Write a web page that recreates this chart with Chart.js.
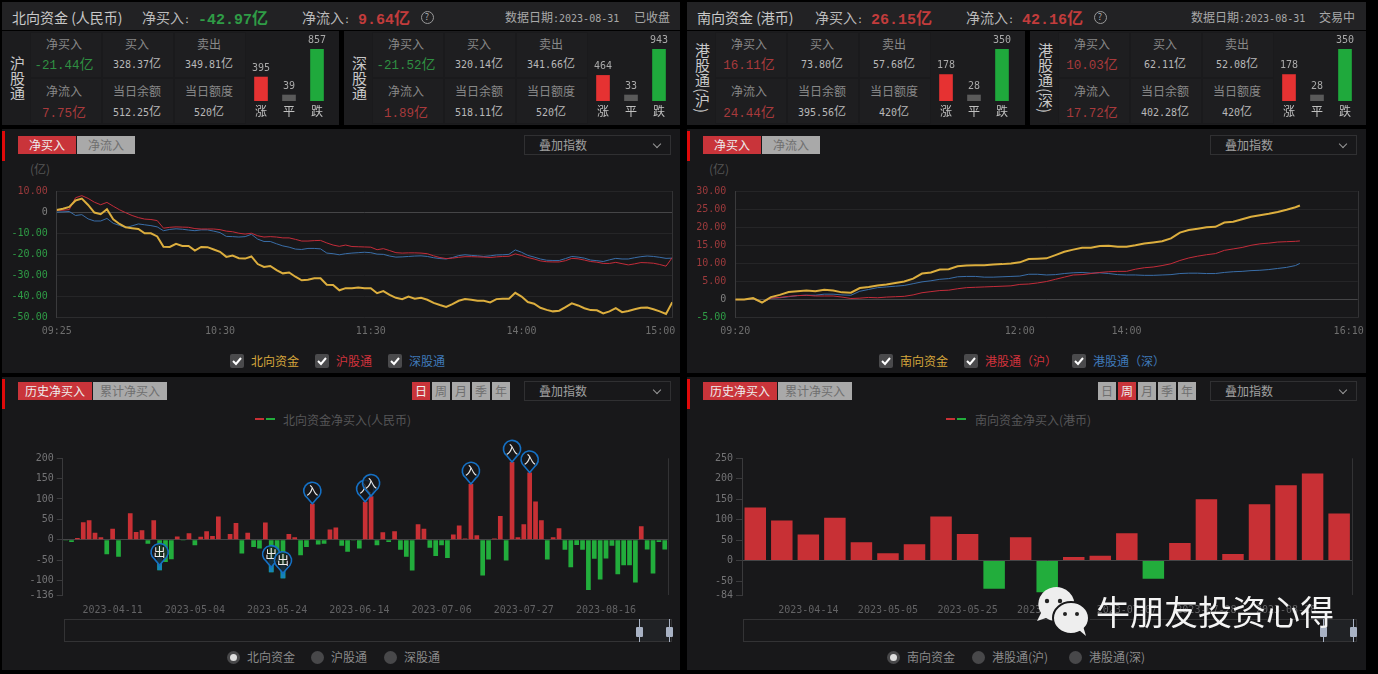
<!DOCTYPE html>
<html>
<head>
<meta charset="utf-8">
<script src="https://cdn.jsdelivr.net/npm/chart.js@4/dist/chart.umd.min.js"></script>
<style>
html, body { margin: 0; padding: 0; background: #000; }
#page { position: relative; width: 1378px; height: 674px; overflow: hidden; background: #000;
  font-family: "Noto Sans CJK SC", sans-serif; font-size: 12px; color: #999; }
#page div, #page canvas, #page svg { position: absolute; }
.t { white-space: nowrap; height: 20px; line-height: 20px; }
.mono { font-family: "DejaVu Sans Mono", monospace; font-size: 10px; }
.cv { font-size: 14px; }
.cv .mono { font-family: "Liberation Mono", monospace; font-size: 12.5px; }
.bigv { font-weight: bold; font-size: 16px; }
.bigv .mono { font-family: "Liberation Mono", monospace; font-size: 15px; font-weight: bold; }
.panel { background: #18181a; }
.cell { background: #1e1e20; border: 1px solid #1a1a1c; box-sizing: border-box; }
.btn { text-align: center; height: 18px; line-height: 18px; box-sizing: border-box; }
.on { background: #c9343a; color: #eee; }
.off { background: #a9a9a9; color: #6f6f6f; }
</style>
</head>
<body>
<div id="page"></div>
<script>
// summary cards
const connectNames = ['沪股通', '深股通', '港股通(沪)', '港股通(深)'];
const netBuy = [-21.44, -21.52, 16.11, 10.03];
const netFlow = [7.75, 1.89, 24.44, 17.72];
const buyAmount = ['328.37', '320.14', '73.80', '62.11'];
const sellAmount = ['349.81', '341.66', '57.68', '52.08'];
const balance = ['512.25', '518.11', '395.56', '402.28'];
const quota = ['520', '520', '420', '420'];
const upCount = [395, 464, 178, 178];
const flatCount = [39, 33, 28, 28];
const downCount = [857, 943, 350, 350];
const breadthLabels = ['涨', '平', '跌'];

// intraday north (minutes of trading since 09:25)
const northMinutes = Array.from({ length: 99 }, (_, i) => i * 2.5);
const northTicks = { 0: '09:25', 65: '10:30', 125: '11:30', 185: '14:00', 245: '15:00    ' };
const northYTicks = [10, 0, -10, -20, -30, -40, -50];
const northTotal = [1, 1.6, 2.5, 5.5, 6.4, 3.4, -0.2, -1, 1.4, -3.4, -5.6, -7.2, -7.6, -8, -10, -10, -11.5, -16.4, -16.5, -15, -16, -16, -18.2, -16.5, -16.6, -17.7, -18.8, -21.2, -20.6, -21.8, -22, -21, -24.6, -26, -25.5, -27.5, -29, -28.6, -30.6, -32.3, -32, -31.3, -31.3, -34.4, -34.5, -37, -36, -36, -35.7, -36, -36, -38.4, -37.4, -39.2, -40.6, -41.2, -40, -41, -40.6, -41.5, -43, -44, -44.9, -43.6, -42, -41.2, -41.5, -42, -42, -42.8, -41.2, -41, -41, -38.2, -40, -42.6, -43.4, -45.3, -46.3, -47, -46.7, -45, -43.2, -44.2, -45.5, -46.4, -46.5, -48, -47, -45.5, -47.4, -46.8, -46, -45.3, -45.2, -46, -47, -48.2, -42.7];
const northSh = [0.8, 0.9, 1.2, 6.8, 7.8, 6.5, 4.7, 3.5, 4.6, 2.8, 1.1, -0.3, -1.6, -2.6, -3.3, -3.5, -4, -7.6, -7.2, -7, -7.1, -7.2, -7.8, -8, -8, -8, -8.3, -9, -9.3, -10, -10.4, -10, -11.2, -11.8, -11.6, -11.8, -12.2, -12.2, -12.9, -13.7, -13.7, -13.5, -13.4, -14.6, -15.6, -16.2, -15.6, -16.3, -16.4, -16.5, -16.6, -17.8, -17.3, -18.2, -19.2, -19.4, -19.3, -19.3, -19.4, -19.7, -20.7, -21.5, -22, -21.8, -21.4, -21.1, -21.1, -21.2, -21.3, -21.5, -21.2, -21, -20.9, -19.8, -20.5, -21.5, -22.2, -23.1, -23.5, -23.6, -23.6, -23, -21.9, -22.1, -22.7, -23.4, -23.7, -24.3, -24.3, -23.8, -24.4, -25, -24.5, -23.9, -24, -24.2, -24.8, -25.6, -21.5];
const northSz = [0, 0.1, 0.3, -1.6, -1.2, -3.2, -4.2, -4.2, -3, -5.3, -6.3, -7.4, -6.5, -5.6, -6, -6.4, -7, -8.8, -8.2, -7.9, -8.1, -8.5, -8.8, -8.4, -8.4, -9, -9.7, -11.5, -11.6, -11.8, -11.6, -10.5, -12.8, -13.9, -13.9, -15, -16, -16.6, -17.5, -17.7, -17.2, -17.2, -17.4, -19.4, -19.7, -20.2, -19.7, -19.4, -19.2, -19, -19.2, -19.9, -20, -20.8, -21.3, -21.2, -21, -20.8, -20.7, -21, -21.6, -22, -22.2, -21.5, -20.6, -20.2, -20.5, -20.7, -21, -20.7, -20.3, -20.2, -20, -17.9, -19, -20.5, -21.3, -22.2, -22.8, -22.9, -22.9, -22, -21, -21.3, -21.8, -22.7, -23, -23.4, -22.6, -21.9, -22.2, -22.2, -21.6, -21.1, -20.8, -21, -21.4, -21.9, -21.8];

// intraday south (minutes of trading since 09:20)
const southMinutes = [0, 5, 10, 15, 20, 25, 30, 35, 40, 45, 50, 55, 60, 65, 70, 75, 80, 85, 90, 95, 100, 105, 110, 115, 120, 125, 130, 135, 140, 145, 150, 155, 160, 165, 170, 175, 180, 185, 190, 195, 200, 205, 210, 215, 220, 225, 230, 235, 240, 245, 250, 255, 260, 265, 270, 275, 280, 285, 290, 295, 300, 305, 310, 315, 317.5];
const southTicks = { 0: '09:20', 160: '12:00', 220: '14:00', 350: '16:10   ' };
const southYTicks = [30, 25, 20, 15, 10, 5, 0, -5];
const southTotal = [0, 0, 0.4, -0.8, 0.7, 1.3, 2.1, 2.3, 2.5, 2.3, 2.7, 2.5, 2, 1.9, 3.2, 3.5, 3.9, 4.2, 4.6, 5, 5.8, 7.2, 7.5, 8.3, 8.4, 9.2, 9.4, 9.5, 9.5, 9.7, 9.8, 10, 10.3, 11.2, 11.3, 11.4, 12.3, 13.2, 13.8, 14.3, 14.3, 14.8, 14.9, 14.6, 14.6, 15, 15.5, 15.8, 16.1, 16.9, 18.5, 19.2, 19.6, 20, 20.1, 21.3, 21.5, 22.2, 22.9, 23.3, 23.7, 24.2, 24.8, 25.5, 26];
const southSh = [0, 0, 0.3, -0.8, 0.4, 0.6, 0.9, 1.1, 1.2, 1, 1, 1, 0.7, 0.3, 0.4, 0.6, 0.5, 0.7, 0.8, 0.9, 1.3, 1.9, 2.2, 2.5, 2.6, 3, 3.3, 3.4, 3.5, 3.6, 3.7, 3.8, 4.2, 4.3, 4.6, 5, 5.6, 6.2, 6.8, 6.9, 7.2, 7.5, 7.7, 7.8, 7.8, 8.4, 8.8, 9, 9.4, 9.9, 10.8, 11.5, 12, 12.4, 12.7, 13.6, 14, 14.4, 15, 15.4, 15.6, 15.9, 16, 16.1, 16.2];
const southSz = [0, 0, 0.2, -0.8, 0.4, 0.5, 0.8, 1.1, 1.2, 1.2, 1.5, 1.5, 1.3, 1.2, 2.3, 2.8, 3.3, 3.5, 3.7, 3.9, 4.4, 4.9, 5.2, 5.6, 5.8, 6.3, 6.4, 6.4, 6.2, 6.2, 6.3, 6.4, 6.5, 7, 7, 6.8, 6.9, 7.2, 7.4, 7.5, 7.3, 7.4, 7.2, 6.9, 6.8, 6.8, 6.7, 6.7, 6.8, 6.9, 7.2, 7.3, 7.3, 7.2, 7.2, 7.5, 7.7, 7.8, 8, 8.1, 8.3, 8.6, 8.9, 9.4, 10];

// history north (daily)
const northDates = ['2023-03-27', '2023-03-28', '2023-03-29', '2023-03-30', '2023-03-31', '2023-04-03', '2023-04-04', '2023-04-06', '2023-04-11', '2023-04-12', '2023-04-13', '2023-04-14', '2023-04-17', '2023-04-18', '2023-04-19', '2023-04-20', '2023-04-21', '2023-04-24', '2023-04-25', '2023-04-26', '2023-04-27', '2023-04-28', '2023-05-04', '2023-05-05', '2023-05-08', '2023-05-09', '2023-05-10', '2023-05-11', '2023-05-12', '2023-05-15', '2023-05-16', '2023-05-17', '2023-05-18', '2023-05-19', '2023-05-22', '2023-05-23', '2023-05-24', '2023-05-25', '2023-05-29', '2023-05-30', '2023-05-31', '2023-06-01', '2023-06-02', '2023-06-05', '2023-06-06', '2023-06-07', '2023-06-08', '2023-06-09', '2023-06-12', '2023-06-13', '2023-06-14', '2023-06-15', '2023-06-16', '2023-06-19', '2023-06-20', '2023-06-21', '2023-06-26', '2023-06-27', '2023-06-28', '2023-06-29', '2023-06-30', '2023-07-03', '2023-07-04', '2023-07-05', '2023-07-06', '2023-07-07', '2023-07-10', '2023-07-11', '2023-07-12', '2023-07-13', '2023-07-14', '2023-07-18', '2023-07-19', '2023-07-20', '2023-07-21', '2023-07-24', '2023-07-25', '2023-07-26', '2023-07-27', '2023-07-28', '2023-07-31', '2023-08-01', '2023-08-02', '2023-08-03', '2023-08-04', '2023-08-07', '2023-08-08', '2023-08-09', '2023-08-10', '2023-08-11', '2023-08-14', '2023-08-15', '2023-08-16', '2023-08-17', '2023-08-18', '2023-08-21', '2023-08-22', '2023-08-23', '2023-08-24', '2023-08-25', '2023-08-28', '2023-08-29', '2023-08-30'];
const northNet = [-1, -6, 4, 43, 48, 17, 6, -36, 27, -42, 0, 65, 19, 23, -10, 48, -75, -55, -48, 8, -2, 16, -14, 7, 21, 9, 57, 0, 14, 41, -34, 17, -18, -22, 42, -80, -55, -95, 14, 6, -38, -18, 88, -12, -10, 25, 30, -15, -30, -2, -22, 93, 107, -14, 18, -6, 21, -25, -42, -76, 38, 27, -20, -40, -14, -45, 13, 35, 3, 137, 11, -88, -49, 3, 58, -51, 191, 6, 38, 165, 94, 48, -49, 6, 28, -25, -68, -13, -25, -124, -47, -98, -46, -15, -85, -63, -63, -105, 33, -24, -83, -6, -24];
const northDateTicks = ['2023-04-11', '2023-05-04', '2023-05-24', '2023-06-14', '2023-07-06', '2023-07-27', '2023-08-16'];
const northYAxis = [200, 150, 100, 50, 0, -50, -100, -136];
const northInDates = ['2023-06-02', '2023-06-15', '2023-06-16', '2023-07-13', '2023-07-25', '2023-07-28'];
const northOutDates = ['2023-04-21', '2023-05-23', '2023-05-25'];

// history south (weekly)
const southWeeks = ['2023-03-31', '2023-04-06', '2023-04-14', '2023-04-21', '2023-04-28', '2023-05-05', '2023-05-12', '2023-05-19', '2023-05-25', '2023-06-02', '2023-06-09', '2023-06-16', '2023-06-21', '2023-06-30', '2023-07-07', '2023-07-14', '2023-07-21', '2023-07-28', '2023-08-04', '2023-08-11', '2023-08-18', '2023-08-25', '2023-08-31'];
const southNet = [130, 98, 64, 105, 45, 18, 40, 108, 65, -69, 57, -77, 9, 12, 67, -44, 43, 150, 16, 138, 184, 213, 115];
const southWeekTicks = ['2023-04-14', '2023-05-05', '2023-05-25', '2023-06-16', '2023-07-07', '2023-07-28', '2023-08-18'];
const southYAxis = [250, 200, 150, 100, 50, 0, -50, -84];

const YELLOW = '#dcae3e', RED = '#c32c3a', BLUE = '#3a6ea8';
const BAR_RED = '#c83035', BAR_GREEN = '#22ad3c';
const page = document.getElementById('page');

Chart.defaults.font.family = '"DejaVu Sans Mono", monospace';
Chart.defaults.font.size = 10;

function box(x, y, w, h, cls, css) {
    const d = document.createElement('div');
    d.className = cls || '';
    d.style.cssText = `left:${x}px;top:${y}px;width:${w}px;height:${h}px;` + (css || '');
    page.appendChild(d);
    return d;
}

function monoNums(s) {
    return String(s).replace(/[-\d.:]+/g, m => `<span class="mono">${m}</span>`);
}

// text centred vertically on y; anchor l / c / r on x
function label(x, y, s, color, anchor, cls, size) {
    const d = document.createElement('div');
    d.className = 't ' + (cls || '');
    const shift = anchor === 'c' ? 'translateX(-50%)' : anchor === 'r' ? 'translateX(-100%)' : '';
    d.style.cssText = `left:${x}px;top:${y - 10}px;color:${color || '#999'};transform:${shift};` + (size ? `font-size:${size}px;` : '');
    d.innerHTML = monoNums(s);
    page.appendChild(d);
    return d;
}

function money(v) { return v.toFixed(2) + '亿'; }
function signColor(v) { return v < 0 ? '#2f8f42' : '#a83a3c'; }

function helpIcon(x, y) {
    box(x - 6, y - 6, 11, 11, '', 'border:1px solid #999;border-radius:50%;');
    label(x, y, '?', '#aaa', 'c', '', 9);
}

function headerBar(x, w, title, net, flow, pos, status) {
    box(x, 2, w, 28, '', 'background:#222224;');
    label(x + 10, 17, title, '#c8c8c8', 'l', '', 14);
    label(pos[0], 17, '净买入:', '#bbb', 'l', '', 14);
    label(pos[1], 17, net.toFixed(2) + '亿', net < 0 ? '#2f9c46' : '#c23c3c', 'l', 'bigv');
    label(pos[2], 17, '净流入:', '#bbb', 'l', '', 14);
    label(pos[3], 17, flow.toFixed(2) + '亿', '#c23c3c', 'l', 'bigv');
    helpIcon(pos[4], 17);
    label(pos[5], 17, '数据日期:2023-08-31', '#a8a8a8', 'l');
    label(pos[6], 17, status, '#a8a8a8', 'c');
}

function summaryCard(x0, w, i) {
    box(x0, 31, w, 94, '', 'background:#1c1c1e;');
    const colX = [28, 100, 172];
    const colC = [62, 135, 207];
    colX.forEach(c => {
        box(x0 + c, 32, 72, 46, 'cell');
        box(x0 + c, 78, 72, 46, 'cell');
    });
    const nameEl = box(x0 + 5, 31, 20, 94, '', 'display:flex;align-items:center;justify-content:center;');
    nameEl.innerHTML = `<span style="writing-mode:vertical-rl;text-orientation:mixed;font-size:15px;line-height:20px;color:#c8c8c8;">${connectNames[i]}</span>`;
    const rows = [[44, 91], [63, 111]];
    label(x0 + colC[0], rows[0][0], '净买入', '#888', 'c');
    label(x0 + colC[0], rows[1][0], money(netBuy[i]), signColor(netBuy[i]), 'c', 'cv');
    label(x0 + colC[0], rows[0][1], '净流入', '#888', 'c');
    label(x0 + colC[0], rows[1][1], money(netFlow[i]), signColor(netFlow[i]), 'c', 'cv');
    label(x0 + colC[1], rows[0][0], '买入', '#888', 'c');
    label(x0 + colC[1], rows[1][0], buyAmount[i] + '亿', '#b8b8b8', 'c');
    label(x0 + colC[1], rows[0][1], '当日余额', '#888', 'c');
    label(x0 + colC[1], rows[1][1], balance[i] + '亿', '#b8b8b8', 'c');
    label(x0 + colC[2], rows[0][0], '卖出', '#888', 'c');
    label(x0 + colC[2], rows[1][0], sellAmount[i] + '亿', '#b8b8b8', 'c');
    label(x0 + colC[2], rows[0][1], '当日额度', '#888', 'c');
    label(x0 + colC[2], rows[1][1], quota[i] + '亿', '#b8b8b8', 'c');
    breadthChart(x0 + 245, i);
}

function makeCanvas(x, y, w, h) {
    const c = document.createElement('canvas');
    c.width = w; c.height = h;
    c.style.cssText = `left:${x}px;top:${y}px;width:${w}px;height:${h}px;`;
    page.appendChild(c);
    return c;
}

// number above each mini bar
const barValuePlugin = {
    id: 'barValues',
    afterDatasetsDraw(chart) {
        const ctx = chart.ctx;
        const meta = chart.getDatasetMeta(0);
        ctx.save();
        ctx.font = '10px "DejaVu Sans Mono"';
        ctx.fillStyle = '#aaa';
        ctx.textAlign = 'center';
        ctx.textBaseline = 'middle';
        meta.data.forEach((bar, k) => ctx.fillText(chart.data.datasets[0].data[k], bar.x, bar.y - 9));
        ctx.restore();
    }
};

function fixAxis(size, horizontal) {
    return scale => {
        if (horizontal) {
            scale.height = size;
            scale.paddingLeft = 0;
            scale.paddingRight = 0;
        } else {
            scale.width = size;
            scale.paddingTop = 0;
            scale.paddingBottom = 0;
        }
    };
}

function breadthChart(x, i) {
    new Chart(makeCanvas(x, 32, 84, 92), {
        type: 'bar',
        data: {
            labels: breadthLabels,
            datasets: [{
                data: [upCount[i], flatCount[i], downCount[i]],
                backgroundColor: ['#e63232', '#5a5a5a', '#1fa93c'],
                barThickness: 13,
                minBarLength: 6
            }]
        },
        options: {
            responsive: false, animation: false,
            layout: { padding: { top: 17, left: 0, right: 0, bottom: 0 } },
            plugins: { legend: { display: false }, tooltip: { enabled: false } },
            scales: {
                x: {
                    grid: { display: false, drawTicks: false }, border: { display: false },
                    afterFit: fixAxis(23, true),
                    ticks: { color: '#c0c0c0', padding: 3, font: { family: '"Noto Sans CJK SC"', size: 12 } }
                },
                y: { display: false, min: 0, max: downCount[i] }
            }
        },
        plugins: [barValuePlugin]
    });
}

// faint closing line on the right of the plot
const rightEdgePlugin = {
    id: 'rightEdge',
    beforeDatasetsDraw(chart) {
        const { ctx, chartArea } = chart;
        ctx.save();
        ctx.strokeStyle = '#333335';
        ctx.beginPath();
        ctx.moveTo(Math.round(chartArea.right) + 0.5, chartArea.top);
        ctx.lineTo(Math.round(chartArea.right) + 0.5, chartArea.bottom);
        ctx.stroke();
        ctx.restore();
    }
};

function intradayChart(box, minutes, sets, yMin, yMax, yTicks, xTicks, xMax) {
    const toPoints = vals => vals.map((v, k) => ({ x: minutes[k], y: v }));
    new Chart(makeCanvas(box.x, box.y, box.w, box.h), {
        type: 'line',
        data: {
            datasets: sets.map(s => ({
                label: s.name, data: toPoints(s.values), borderColor: s.color,
                borderWidth: s.width, pointRadius: 0, tension: 0
            }))
        },
        options: {
            responsive: false, animation: false,
            layout: { padding: { top: box.top, right: box.right, left: 0, bottom: 0 } },
            plugins: { legend: { display: false }, tooltip: { enabled: false } },
            scales: {
                x: {
                    type: 'linear', min: 0, max: xMax,
                    grid: { display: false, drawTicks: false }, border: { color: '#2c2c2e' },
                    afterFit: fixAxis(box.axisH, true),
                    afterBuildTicks: s => { s.ticks = Object.keys(xTicks).map(m => ({ value: Number(m) })); },
                    ticks: {
                        autoSkip: false, maxRotation: 0, padding: 8, color: '#6e6e6e',
                        callback: v => xTicks[v]
                    }
                },
                y: {
                    min: yMin, max: yMax,
                    afterFit: fixAxis(box.axisW, false),
                    afterBuildTicks: s => { s.ticks = yTicks.map(v => ({ value: v })); },
                    border: { color: '#3a3a3c' },
                    grid: {
                        drawTicks: false,
                        color: c => c.tick.value === 0 ? '#454547' : '#252527'
                    },
                    ticks: {
                        padding: 9, autoSkip: false,
                        color: c => c.tick.value > 0 ? '#9c3a3c' : c.tick.value < 0 ? '#2f9c46' : '#808080',
                        callback: v => v === 0 ? '0' : v.toFixed(2)
                    }
                }
            }
        },
        plugins: [rightEdgePlugin]
    });
}

// 入 / 出 pins sitting on the flagged bars
const pinPlugin = {
    id: 'flowPins',
    afterDatasetsDraw(chart, args, opts) {
        const ctx = chart.ctx;
        const meta = chart.getDatasetMeta(0);
        const labels = chart.data.labels;
        const drawPin = (date, text) => {
            const bar = meta.data[labels.indexOf(date)];
            const isOut = text === '出';
            const tipY = bar.y - (isOut ? 5 : 0);
            const cy = tipY - 13;
            const r = 8.6;
            ctx.save();
            if (isOut) {
                ctx.fillStyle = '#1583b8';
                ctx.fillRect(bar.x - bar.width / 2, cy + 4, bar.width, bar.y - cy - 4);
            }
            // teardrop outline
            const a = Math.PI * 0.2;
            ctx.beginPath();
            ctx.arc(bar.x, cy, r, Math.PI / 2 + a, Math.PI / 2 - a);
            ctx.lineTo(bar.x, tipY);
            ctx.closePath();
            ctx.fillStyle = 'rgba(24,24,26,0.8)';
            ctx.fill();
            ctx.lineWidth = 1.6;
            ctx.strokeStyle = '#1570c4';
            ctx.stroke();
            ctx.fillStyle = '#eeeeee';
            ctx.font = '12px "Noto Sans CJK SC"';
            ctx.textAlign = 'center';
            ctx.textBaseline = 'middle';
            ctx.fillText(text, bar.x, cy);
            ctx.restore();
        };
        opts.outDates.forEach(d => drawPin(d, '出'));
        opts.inDates.forEach(d => drawPin(d, '入'));
    }
};

function historyChart(cfg, box) {
    new Chart(makeCanvas(box.x, box.y, box.w, box.h), {
        type: 'bar',
        data: {
            labels: cfg.dates,
            datasets: [{
                data: cfg.values,
                backgroundColor: cfg.values.map(v => v >= 0 ? BAR_RED : BAR_GREEN),
                barPercentage: cfg.barPct, categoryPercentage: 1
            }]
        },
        options: {
            responsive: false, animation: false,
            layout: { padding: { top: box.top, right: box.right, left: 0, bottom: 0 } },
            plugins: {
                legend: { display: false }, tooltip: { enabled: false },
                flowPins: { inDates: cfg.inDates || [], outDates: cfg.outDates || [] }
            },
            scales: {
                x: {
                    grid: { display: false, drawTicks: false }, border: { display: false },
                    afterFit: fixAxis(box.axisH, true),
                    ticks: {
                        autoSkip: false, maxRotation: 0, padding: 9, color: '#626264',
                        callback(v) {
                            const d = this.getLabelForValue(v);
                            return cfg.dateTicks.includes(d) ? d : '';
                        }
                    }
                },
                y: {
                    min: cfg.yAxis[cfg.yAxis.length - 1], max: cfg.yAxis[0],
                    afterFit: fixAxis(box.axisW, false),
                    afterBuildTicks: s => { s.ticks = cfg.yAxis.map(v => ({ value: v })); },
                    border: { color: '#3a3a3c' },
                    grid: {
                        tickLength: 6, tickColor: '#3a3a3c',
                        color: c => c.tick.value === 0 ? '#454547' : 'transparent'
                    },
                    ticks: { padding: 3, autoSkip: false, color: '#737375', callback: v => v }
                }
            }
        },
        plugins: [rightEdgePlugin, pinPlugin]
    });
}

function selectBox(x, y, w, h) {
    box(x, y, w, h, '', 'border:1px solid #303032;box-sizing:border-box;');
    label(x + 15, y + h / 2, '叠加指数', '#a0a0a0');
    box(x + w - 17, y + h / 2 - 4, 5, 5, '', 'border-right:1px solid #999;border-bottom:1px solid #999;transform:rotate(45deg);');
}

function checkItem(x, y, text, color) {
    box(x - 7, y - 7, 14, 14, '', 'background:#4a4a4c;border-radius:2px;');
    const s = document.createElementNS('http://www.w3.org/2000/svg', 'svg');
    s.setAttribute('width', 14); s.setAttribute('height', 14);
    s.style.cssText = `left:${x - 7}px;top:${y - 7}px;`;
    s.innerHTML = '<path d="M3 7 L6 10 L11 4" fill="none" stroke="#fff" stroke-width="2"/>';
    page.appendChild(s);
    label(x + 14, y, text, color);
}

function radioItem(x, y, text, active) {
    box(x - 6, y - 6, 13, 13, '', 'background:#48484a;border-radius:50%;');
    if (active) box(x - 3, y - 3, 7, 7, '', 'background:#ddd;border-radius:50%;');
    label(x + 14, y, text, '#8a8a8a');
}

function zoomBar(x, w, h1, h2) {
    box(x, 619, w, 23, '', 'border:1px solid #333335;box-sizing:border-box;');
    box(h1, 620, h2 - h1, 21, '', 'background:#202225;');
    [h1, h2].forEach(hx => {
        box(hx, 619, 1, 23, '', 'background:#a8b2c4;');
        box(hx - 3, 627, 7, 10, '', 'background:#a8b2c4;border-radius:1px;');
    });
}

function accent(x, y) { box(x, y, 3, 30, '', 'background:#e00a0a;'); }

// ---------- top strip ----------
headerBar(2, 678, '北向资金 (人民币)', -42.97, 9.64, [142, 198, 302, 358, 427, 505, 652], '已收盘');
headerBar(687, 679, '南向资金 (港币)', 26.15, 42.16, [815, 871, 966, 1022, 1100, 1191, 1337], '交易中');
summaryCard(2, 337, 0);
summaryCard(344, 336, 1);
summaryCard(687, 338, 2);
summaryCard(1030, 336, 3);

// ---------- panels ----------
[[2, 129, 678, 244], [687, 129, 679, 244], [2, 377, 678, 293], [687, 377, 679, 293]].forEach(p => {
    box(p[0], p[1], p[2], p[3], 'panel');
    accent(p[0], p[1] + 2);
});

// intraday panels
[[18, '净买入', '净流入'], [703, '净买入', '净流入']].forEach(p => {
    box(p[0], 136, 58, 18, 'btn on').textContent = p[1];
    box(p[0] + 59, 136, 58, 18, 'btn off').textContent = p[2];
});
selectBox(524, 135, 147, 20);
selectBox(1210, 135, 147, 20);
label(40, 169, '(亿)', '#555', 'c');
label(719, 169, '(亿)', '#555', 'c');

intradayChart({ x: 2, y: 170, w: 678, h: 175, axisW: 54.7, axisH: 27.3, top: 21, right: 7.7 },
    northMinutes,
    [{ name: '北向资金', values: northTotal, color: YELLOW, width: 2 },
     { name: '沪股通', values: northSh, color: RED, width: 1 },
     { name: '深股通', values: northSz, color: BLUE, width: 1 }],
    -50, 10, northYTicks, northTicks, 245);
intradayChart({ x: 687, y: 170, w: 679, h: 175, axisW: 48.3, axisH: 27.3, top: 21, right: 8.3 },
    southMinutes,
    [{ name: '南向资金', values: southTotal, color: YELLOW, width: 2 },
     { name: '港股通(沪)', values: southSh, color: RED, width: 1 },
     { name: '港股通(深)', values: southSz, color: BLUE, width: 1 }],
    -5, 30, southYTicks, southTicks, 350);

checkItem(237, 361, '北向资金', '#d5a63c');
checkItem(322, 361, '沪股通', '#d0323c');
checkItem(395, 361, '深股通', '#3f78b8');
checkItem(886, 361, '南向资金', '#d5a63c');
checkItem(971, 361, '港股通（沪）', '#d0323c');
checkItem(1079, 361, '港股通（深）', '#3f78b8');

// history panels
[18, 703].forEach(x => {
    box(x, 382, 74, 18, 'btn on').textContent = '历史净买入';
    box(x + 75, 382, 74, 18, 'btn off').textContent = '累计净买入';
});
['日', '周', '月', '季', '年'].forEach((p, k) => {
    box(412 + k * 20, 382, 18, 18, 'btn ' + (k === 0 ? 'on' : 'off')).textContent = p;
    box(1098 + k * 20, 382, 18, 18, 'btn ' + (k === 1 ? 'on' : 'off')).textContent = p;
});
selectBox(524, 381, 147, 20);
selectBox(1210, 381, 147, 20);

[[255, 283, '北向资金净买入(人民币)'], [946, 975, '南向资金净买入(港币)']].forEach(t => {
    box(t[0], 418, 9, 2, '', `background:${BAR_RED};`);
    box(t[0] + 11, 418, 9, 2, '', `background:${BAR_GREEN};`);
    label(t[1], 420, t[2], '#565658');
});

zoomBar(64, 608, 639, 669);
zoomBar(743, 614, 1323, 1353);

historyChart({
    dates: northDates, values: northNet, dateTicks: northDateTicks, yAxis: northYAxis,
    inDates: northInDates, outDates: northOutDates, barPct: 0.8
}, { x: 2, y: 432, w: 678, h: 188, axisW: 60.7, axisH: 25, top: 26.3, right: 12.3 });
historyChart({
    dates: southWeeks, values: southNet, dateTicks: southWeekTicks, yAxis: southYAxis, barPct: 0.81
}, { x: 687, y: 432, w: 679, h: 188, axisW: 55, axisH: 25, top: 26.3, right: 13.6 });

radioItem(233, 657, '北向资金', true);
radioItem(317, 657, '沪股通', false);
radioItem(390, 657, '深股通', false);
radioItem(893, 657, '南向资金', true);
radioItem(978, 657, '港股通(沪)', false);
radioItem(1075, 657, '港股通(深)', false);

// ---------- watermark ----------
const logo = document.createElementNS('http://www.w3.org/2000/svg', 'svg');
logo.setAttribute('width', 60); logo.setAttribute('height', 52);
logo.style.cssText = 'left:1032px;top:586px;';
logo.innerHTML = '<path d="M5 35 L9 27 A18 17 0 1 1 14 32 Z" fill="#eee"/>'
    + '<ellipse cx="39" cy="32" rx="18" ry="16" fill="#eee" stroke="#18181a" stroke-width="2"/>'
    + '<path d="M47 44 L54 50 L51 40 Z" fill="#eee"/>'
    + '<circle cx="15" cy="15" r="2.2" fill="#222"/><circle cx="28" cy="15" r="2.2" fill="#222"/>'
    + '<circle cx="33" cy="28" r="2" fill="#222"/><circle cx="45" cy="28" r="2" fill="#222"/>';
page.appendChild(logo);
const mark = label(1096, 611, '牛朋友投资心得', '#f4f4f4', 'l', '', 34);
mark.style.height = '40px';
mark.style.lineHeight = '40px';
mark.style.top = '591px';
</script>
</body>
</html>
